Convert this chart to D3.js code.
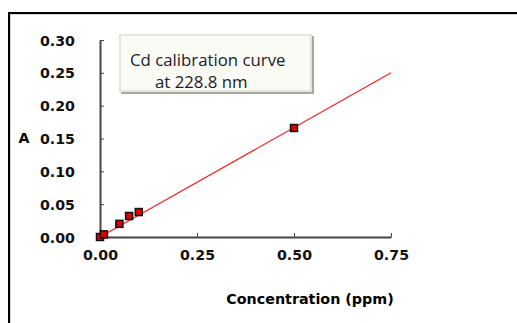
<!DOCTYPE html>
<html>
<head>
<meta charset="utf-8">
<script src="https://cdn.jsdelivr.net/npm/d3@7"></script>
<style>
body { margin: 0; background: #fff; }
svg { display: block; }
.tick text { font-family: "DejaVu Sans", sans-serif; font-weight: bold; font-size: 14.2px; fill: #111; }
</style>
</head>
<body>
<script>
// calibration standards (ppm) and measured absorbance
var conc = [0, 0.01, 0.05, 0.075, 0.1, 0.5];
var absorb = [0.0, 0.004, 0.02, 0.032, 0.038, 0.166];
// fitted line end points
var fitX = [0, 0.75];
var fitY = [0, 0.25];
var xTicks = [0, 0.25, 0.5, 0.75];
var yTicks = [0, 0.05, 0.1, 0.15, 0.2, 0.25, 0.3];

var width = 517, height = 323;

var svg = d3.select("body").append("svg")
    .attr("width", width)
    .attr("height", height);

// outer frame (only top and left edges visible)
svg.append("path")
    .attr("d", "M9,323 V13 H517")
    .attr("fill", "none")
    .attr("stroke", "#aaa")
    .attr("stroke-width", 1)
    .attr("transform", "translate(1,1)");
svg.append("path")
    .attr("d", "M9,323 V13 H517")
    .attr("fill", "none")
    .attr("stroke", "#000")
    .attr("stroke-width", 2);

var x = d3.scaleLinear().domain([0, 0.75]).range([100, 391]);
var y = d3.scaleLinear().domain([0, 0.3]).range([237, 40]);

// y axis, ticks pointing inward
var yAxis = svg.append("g")
    .attr("transform", "translate(100,0)")
    .call(d3.axisLeft(y).tickValues(yTicks).tickSizeInner(-4).tickSizeOuter(0).tickPadding(25)
        .tickFormat(d3.format(".2f")));
yAxis.select(".domain").attr("stroke", "#444").attr("stroke-width", 2);
yAxis.selectAll(".tick line").attr("stroke", "#444").attr("stroke-width", 1);
yAxis.selectAll(".tick text").attr("dy", "0.36em");

// x axis, ticks pointing upward
var xAxis = svg.append("g")
    .attr("transform", "translate(0,237)")
    .call(d3.axisBottom(x).tickValues(xTicks).tickSizeInner(-4).tickSizeOuter(0).tickPadding(13)
        .tickFormat(d3.format(".2f")));
xAxis.select(".domain").attr("stroke", "#444").attr("stroke-width", 2);
xAxis.selectAll(".tick line").attr("stroke", "#444").attr("stroke-width", 1);

// fitted line
svg.append("line")
    .attr("x1", x(fitX[0])).attr("y1", y(fitY[0]))
    .attr("x2", x(fitX[1])).attr("y2", y(fitY[1]))
    .attr("stroke", "#ff2020")
    .attr("stroke-width", 1.2);

// data markers
var pts = svg.selectAll(".pt")
    .data(conc)
    .enter()
    .append("rect")
    .attr("class", "pt")
    .attr("x", function(d){ return x(d) - 3.5; })
    .attr("y", function(d, i){ return y(absorb[i]) - 3.5; })
    .attr("width", 7)
    .attr("height", 7)
    .attr("fill", "#e00000")
    .attr("stroke", "#111")
    .attr("stroke-width", 1.5);

// axis titles
svg.append("text")
    .attr("x", 24).attr("y", 143)
    .attr("text-anchor", "middle")
    .style("font-family", "DejaVu Sans, sans-serif")
    .style("font-weight", "bold")
    .style("font-size", "14.2px")
    .text("A");

svg.append("text")
    .attr("x", 310).attr("y", 304)
    .attr("text-anchor", "middle")
    .style("font-family", "DejaVu Sans, sans-serif")
    .style("font-weight", "bold")
    .style("font-size", "14.3px")
    .text("Concentration (ppm)");

// annotation box
var box = svg.append("g");
box.append("rect")
    .attr("x", 121).attr("y", 36).attr("width", 193).attr("height", 58)
    .attr("fill", "#a8a8a0");
box.append("rect")
    .attr("x", 120).attr("y", 35).attr("width", 191).attr("height", 56)
    .attr("fill", "#fbfbf6")
    .attr("stroke", "#e4e4dc")
    .attr("stroke-width", 2);
box.append("text")
    .attr("x", 130).attr("y", 66)
    .style("font-family", "Open Sans, sans-serif")
    .style("font-size", "16.8px")
    .style("fill", "#1a1a2a")
    .text("Cd calibration curve");
box.append("text")
    .attr("x", 155).attr("y", 88)
    .style("font-family", "Open Sans, sans-serif")
    .style("font-size", "16.8px")
    .style("fill", "#1a1a2a")
    .text("at 228.8 nm");
</script>
</body>
</html>
